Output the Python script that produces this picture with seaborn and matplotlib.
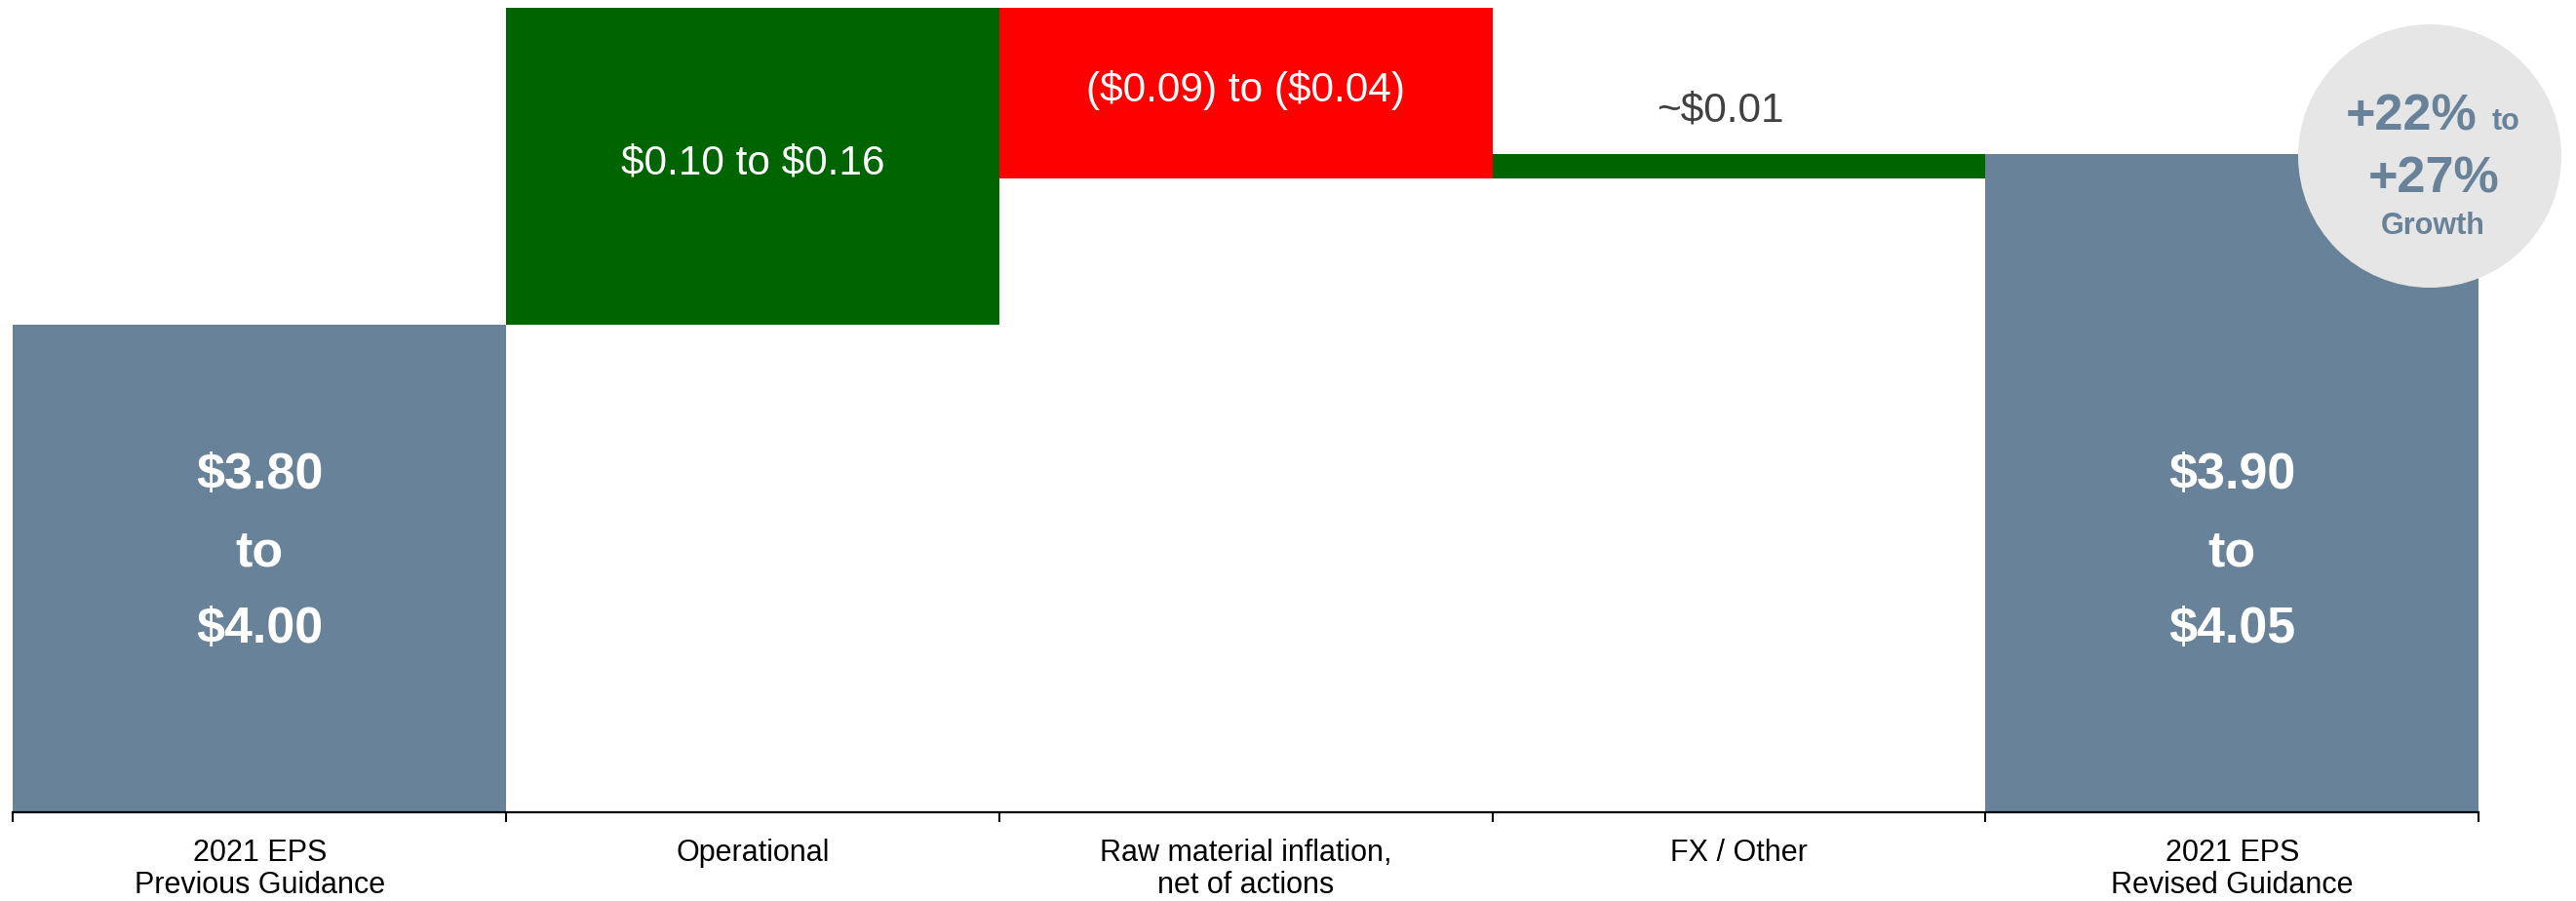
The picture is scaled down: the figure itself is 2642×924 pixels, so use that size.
import numpy as np
import pandas as pd
import matplotlib
matplotlib.use("Agg")
import matplotlib.pyplot as plt
from matplotlib.patches import Ellipse
import seaborn as sns

# ---------------- data ----------------
categories = ["2021 EPS\nPrevious Guidance", "Operational",
              "Raw material inflation,\nnet of actions", "FX / Other",
              "2021 EPS\nRevised Guidance"]
start_value = 3.90          # midpoint of previous guidance as drawn
step_changes = [0.13, -0.07, 0.01]   # drawn step sizes
end_value = 3.97            # revised guidance as drawn
axis_floor = 3.70
axis_top = 4.0333
value_labels = ["$3.80\nto\n$4.00", "$0.10 to $0.16", "($0.09) to ($0.04)",
                "~$0.01", "$3.90\nto\n$4.05"]
growth_lines = ["+22%", "to", "+27%", "Growth"]

SLATE = "#678299"
GREEN = "#006400"
RED = "#FF0000"
bar_colors = [SLATE, GREEN, RED, GREEN, SLATE]

# waterfall geometry computed from the data
tops, bottoms = [start_value], [0.0]
running = start_value
for d in step_changes:
    new = running + d
    tops.append(max(running, new))
    bottoms.append(min(running, new))
    running = new
tops.append(end_value)
bottoms.append(0.0)
heights = [t - b for t, b in zip(tops, bottoms)]

df = pd.DataFrame({"category": categories, "height": heights})

# ---------------- style ----------------
sns.set_style("white")
plt.rcParams["font.family"] = ["Liberation Sans", "DejaVu Sans"]
plt.rcParams["text.parse_math"] = False

fig = plt.figure(figsize=(26.42, 9.24), dpi=100)
ax = fig.add_axes([13.3 / 2642, 1 - 833.3 / 924, (2542.3 - 13.3) / 2642, 833.3 / 924])

sns.barplot(data=df, x="category", y="height", order=categories, width=1.0,
            saturation=1, color=SLATE, bottom=bottoms, linewidth=0,
            errorbar=None, ax=ax)
for patch, c in zip(ax.patches, bar_colors):
    patch.set_facecolor(c)
    patch.set_edgecolor("none")

ax.set_xlim(-0.5, len(categories) - 0.5)
ax.set_ylim(axis_floor, axis_top)
ax.set_xlabel("")
ax.set_ylabel("")
ax.set_yticks([])
for s in ["top", "right", "left"]:
    ax.spines[s].set_visible(False)
ax.spines["bottom"].set_linewidth(1.6)
ax.spines["bottom"].set_color("black")

ax.set_xticks(range(len(categories)))
ax.set_xticklabels(categories, fontsize=22, color="black", linespacing=1.15)
ax.set_xticks(np.arange(-0.5, len(categories)), minor=True)
ax.tick_params(axis="x", which="major", length=0, pad=19)
ax.tick_params(axis="x", which="minor", length=7.5, width=1.5, color="black",
               direction="out", bottom=True)

# ---------------- labels ----------------
total_mid = (axis_floor + start_value) / 2
for i in (0, 4):
    ax.annotate(value_labels[i], xy=(i, total_mid), xytext=(0, 12),
                textcoords="offset points", ha="center", va="center",
                fontsize=37.5, fontweight="bold", color="white", linespacing=1.78)

for i in (1, 2):
    ax.annotate(value_labels[i], xy=(i, (tops[i] + bottoms[i]) / 2), xytext=(0, 2),
                textcoords="offset points", ha="center", va="center",
                fontsize=30.5, color="white")

ax.annotate(value_labels[3], xy=(3, tops[3]), xytext=(-14, 24),
            textcoords="offset points", ha="center", va="baseline",
            fontsize=30.5, color="#404040")

# ---------------- growth badge ----------------
cx, cy, r = 2492 / 2642, 1 - 160 / 924, 135
badge = Ellipse((cx, cy), 2 * r / 2642, 2 * r / 924, transform=fig.transFigure,
                facecolor="#E6E6E6", edgecolor="none", zorder=5)
fig.patches.append(badge)
fig.text(2406 / 2642, 1 - 133 / 924, growth_lines[0], ha="left", va="baseline",
         fontsize=37.5, fontweight="bold", color=SLATE, zorder=6)
fig.text(2556 / 2642, 1 - 133 / 924, growth_lines[1], ha="left", va="baseline",
         fontsize=22, fontweight="bold", color=SLATE, zorder=6)
fig.text(2496 / 2642, 1 - 197 / 924, growth_lines[2], ha="center", va="baseline",
         fontsize=37.5, fontweight="bold", color=SLATE, zorder=6)
fig.text(2495 / 2642, 1 - 240 / 924, growth_lines[3], ha="center", va="baseline",
         fontsize=22, fontweight="bold", color=SLATE, zorder=6)

fig.savefig("out.png", dpi=100, facecolor="white")
